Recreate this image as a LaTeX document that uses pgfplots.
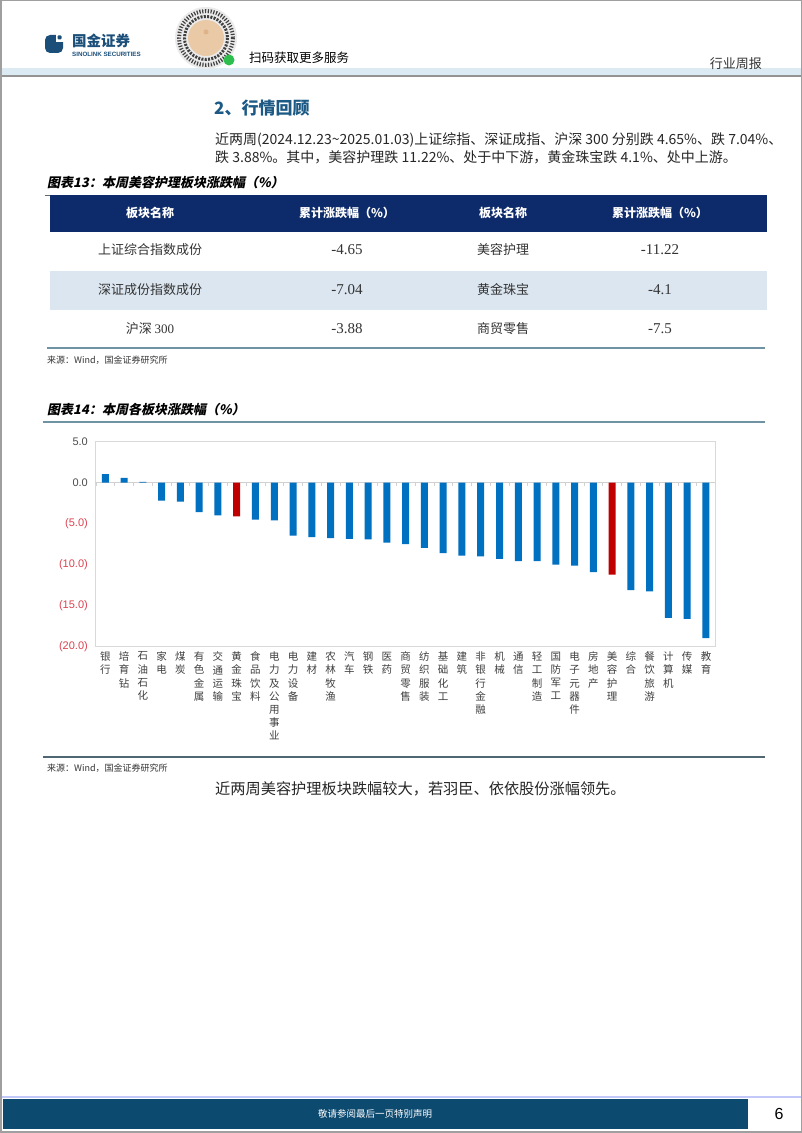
\documentclass[border=0pt]{standalone}
\usepackage{pgfplots}
\pgfplotsset{compat=1.18}
\usepackage{fontspec}
\setmainfont{Noto Sans CJK SC}
\newfontfamily\cjkti[FakeSlant=0.2]{Noto Sans CJK SC}
\newfontfamily\arial{Liberation Sans}
\newfontfamily\serifnum{Liberation Serif}
\definecolor{barblue}{HTML}{0070C0}
\definecolor{barred}{HTML}{C00000}
\definecolor{navy}{HTML}{0D2A6A}
\definecolor{rowblue}{HTML}{DCE6F0}
\definecolor{tealline}{HTML}{6F93A3}
\definecolor{secblue}{HTML}{1C5A85}
\definecolor{footblue}{HTML}{0D4A70}
\definecolor{negred}{HTML}{DB4350}
\definecolor{txt}{HTML}{333333}
\definecolor{logo}{HTML}{1B4F7A}
\definecolor{hdrband}{HTML}{DCEBF3}
\definecolor{peach}{HTML}{E9C9A6}
\definecolor{wxgreen}{HTML}{2DBE4E}

\pgfplotstableread{
x y
0 1.06
1 0.6
2 0.1
3 -2.2
4 -2.3
5 -3.6
6 -4.0
8 -4.5
9 -4.6
10 -6.45
11 -6.65
12 -6.75
13 -6.85
14 -6.9
15 -7.3
16 -7.5
17 -7.95
18 -8.6
19 -8.9
20 -9.0
21 -9.3
22 -9.55
23 -9.55
24 -10.0
25 -10.1
26 -10.9
28 -13.1
29 -13.25
30 -16.5
31 -16.6
32 -18.95
}\blueData
\pgfplotstableread{
x y
7 -4.1
27 -11.22
}\redData

\begin{document}
\begin{tikzpicture}[x=1pt,y=1pt]
\useasboundingbox (0,0) rectangle (802,1133);
\fill[white] (0,0) rectangle (802,1133);
\begin{scope}[y=-1pt, shift={(0pt,1133pt)}]
% page frame
\draw[gray!75, line width=1.5pt] (0.75,0.75) rectangle (801.25,1132.25);
% header
\fill[hdrband] (1.5,68) rectangle (800.5,75);
\draw[gray!85, line width=1.5pt] (1.5,76) -- (800.5,76);
\fill[logo, rounded corners=5pt] (45,35) rectangle (63,53);
\fill[white] (56,33) rectangle (64,42);
\fill[logo, rounded corners=1pt] (57.5,35.5) rectangle (61.5,39.5);
\node[anchor=west, inner sep=0pt, text=logo, font=\bfseries\fontsize{14.5}{15}\selectfont] at (72,41) {国金证券};
\node[anchor=west, inner sep=0pt, text=logo, font=\arial\bfseries\fontsize{6.2}{7}\selectfont] at (72,54) {SINOLINK SECURITIES};
% QR badge
\fill[black!8] (206,38) circle (31);
\draw[black!75, line width=4pt, dash pattern=on 1.2pt off 1.6pt] (206,38) circle (27);
\draw[black!75, line width=3pt, dash pattern=on 2pt off 1.3pt] (206,38) circle (21.5);
\fill[peach] (206,38) circle (18);
\fill[peach!70!brown] (206,32) circle (2.5);
\fill[wxgreen] (229,60) circle (5.5);
\node[anchor=west, inner sep=0pt, font=\fontsize{12.5}{13}\selectfont] at (249,58) {扫码获取更多服务};
\node[anchor=east, inner sep=0pt, text=txt, font=\fontsize{13}{13}\selectfont] at (762,64) {行业周报};
% section title and paragraph
\node[anchor=west, inner sep=0pt, text=secblue, font=\bfseries\fontsize{17}{17}\selectfont] at (214,108) {2、行情回顾};
\node[anchor=base west, inner sep=0pt, text=black!85, font=\fontsize{14}{14}\selectfont] at (215,145) {近两周(2024.12.23\textasciitilde 2025.01.03)上证综指、深证成指、沪深 300 分别跌 4.65\%、跌 7.04\%、};
\node[anchor=base west, inner sep=0pt, text=black!85, font=\fontsize{14}{14}\selectfont] at (215,163) {跌 3.88\%。其中，美容护理跌 11.22\%、处于中下游，黄金珠宝跌 4.1\%、处中上游。};
% table 13
\node[anchor=base west, inner sep=0pt, font=\cjkti\bfseries\fontsize{13}{13}\selectfont] at (47,188) {图表13：本周美容护理板块涨跌幅（\%）};
\draw[black!60, line width=0.8pt] (45,195) -- (767,195);
\fill[navy] (50,195.4) rectangle (767,232);
\fill[rowblue] (50,271) rectangle (767,310);
\draw[tealline, line width=2.5pt] (47,348) -- (765,348);
\begin{scope}[every node/.style={inner sep=0pt, text=white, font=\bfseries\fontsize{12}{12}\selectfont}]
\node at (150,213) {板块名称};
\node at (347,213) {累计涨跌幅（\%）};
\node at (503,213) {板块名称};
\node at (660,213) {累计涨跌幅（\%）};
\end{scope}
\begin{scope}[every node/.style={inner sep=0pt, text=txt, font=\fontsize{13}{13}\selectfont}]
\node at (150,250) {上证综合指数成份};
\node at (150,290) {深证成份指数成份};
\node at (150,329) {沪深 {\serifnum 300}};
\node at (503,250) {美容护理};
\node at (503,290) {黄金珠宝};
\node at (503,329) {商贸零售};
\node[font=\serifnum\fontsize{15}{15}\selectfont] at (347,250) {-4.65};
\node[font=\serifnum\fontsize{15}{15}\selectfont] at (347,290) {-7.04};
\node[font=\serifnum\fontsize{15}{15}\selectfont] at (347,329) {-3.88};
\node[font=\serifnum\fontsize{15}{15}\selectfont] at (660,250) {-11.22};
\node[font=\serifnum\fontsize{15}{15}\selectfont] at (660,290) {-4.1};
\node[font=\serifnum\fontsize{15}{15}\selectfont] at (660,329) {-7.5};
\end{scope}
\node[anchor=base west, inner sep=0pt, text=txt, font=\fontsize{9}{9}\selectfont] at (47,364) {来源：Wind，国金证券研究所};
% chart 14 title
\node[anchor=base west, inner sep=0pt, font=\cjkti\bfseries\fontsize{13}{13}\selectfont] at (47,415) {图表14：本周各板块涨跌幅（\%）};
\draw[tealline, line width=2pt] (43,422) -- (765,422);
\draw[tealline!70!black, line width=1.2pt] (43,757) -- (765,757);
\node[anchor=base west, inner sep=0pt, text=txt, font=\fontsize{9}{9}\selectfont] at (47,772) {来源：Wind，国金证券研究所};
\node[anchor=base west, inner sep=0pt, text=black!85, font=\fontsize{15.2}{16}\selectfont] at (215,795) {近两周美容护理板块跌幅较大，若羽臣、依依股份涨幅领先。};
% footer
\draw[hdrband!70!blue!60, line width=1.5pt] (1.5,1097) -- (800.5,1097);
\fill[footblue] (3,1099) rectangle (748,1129);
\node[inner sep=0pt, text=white, font=\fontsize{9.5}{10}\selectfont] at (375,1114) {敬请参阅最后一页特别声明};
\node[inner sep=0pt, text=black, font=\arial\fontsize{16}{16}\selectfont] at (779,1114) {6};
\end{scope}

\begin{axis}[
  at={(95pt,691.3pt)}, anchor=north west,
  width=620pt, height=205pt, scale only axis,
  xmin=-0.55, xmax=32.48, ymin=-20, ymax=5,
  axis line style={draw=black!15, line width=0.8pt},
  major tick length=0pt, tick style={draw=none},
  ytick={-20,-15,-10,-5,0,5},
  yticklabels={\textcolor{negred}{(20.0)},\textcolor{negred}{(15.0)},\textcolor{negred}{(10.0)},\textcolor{negred}{(5.0)},0.0,5.0},
  yticklabel style={font=\arial\fontsize{11}{11}\selectfont, text=black!70, anchor=east, inner sep=0pt, xshift=-7pt},
  xtick={0,...,32},
  xticklabels={{银\\行},{培\\育\\钻},{石\\油\\石\\化},{家\\电},{煤\\炭},{有\\色\\金\\属},{交\\通\\运\\输},{黄\\金\\珠\\宝},{食\\品\\饮\\料},{电\\力\\及\\公\\用\\事\\业},{电\\力\\设\\备},{建\\材},{农\\林\\牧\\渔},{汽\\车},{钢\\铁},{医\\药},{商\\贸\\零\\售},{纺\\织\\服\\装},{基\\础\\化\\工},{建\\筑},{非\\银\\行\\金\\融},{机\\械},{通\\信},{轻\\工\\制\\造},{国\\防\\军\\工},{电\\子\\元\\器\\件},{房\\地\\产},{美\\容\\护\\理},{综\\合},{餐\\饮\\旅\\游},{计\\算\\机},{传\\媒},{教\\育}},
  xticklabel style={font=\fontsize{10.5}{13.2}\selectfont, text=black!75, align=center, anchor=north, inner sep=0pt, yshift=-5pt},
]
\draw[black!18, line width=0.8pt] (axis cs:-0.55,0) -- (axis cs:32.48,0);
\pgfplotsinvokeforeach{0,...,33}{\draw[black!18, line width=0.6pt] (axis cs:#1-0.5,0) -- ++(0pt,-3pt);}
\addplot[ybar, bar width=7pt, bar shift=0pt, fill=barblue, draw=none] table[x=x,y=y] {\blueData};
\addplot[ybar, bar width=7pt, bar shift=0pt, fill=barred, draw=none] table[x=x,y=y] {\redData};
\end{axis}
\end{tikzpicture}
\end{document}
